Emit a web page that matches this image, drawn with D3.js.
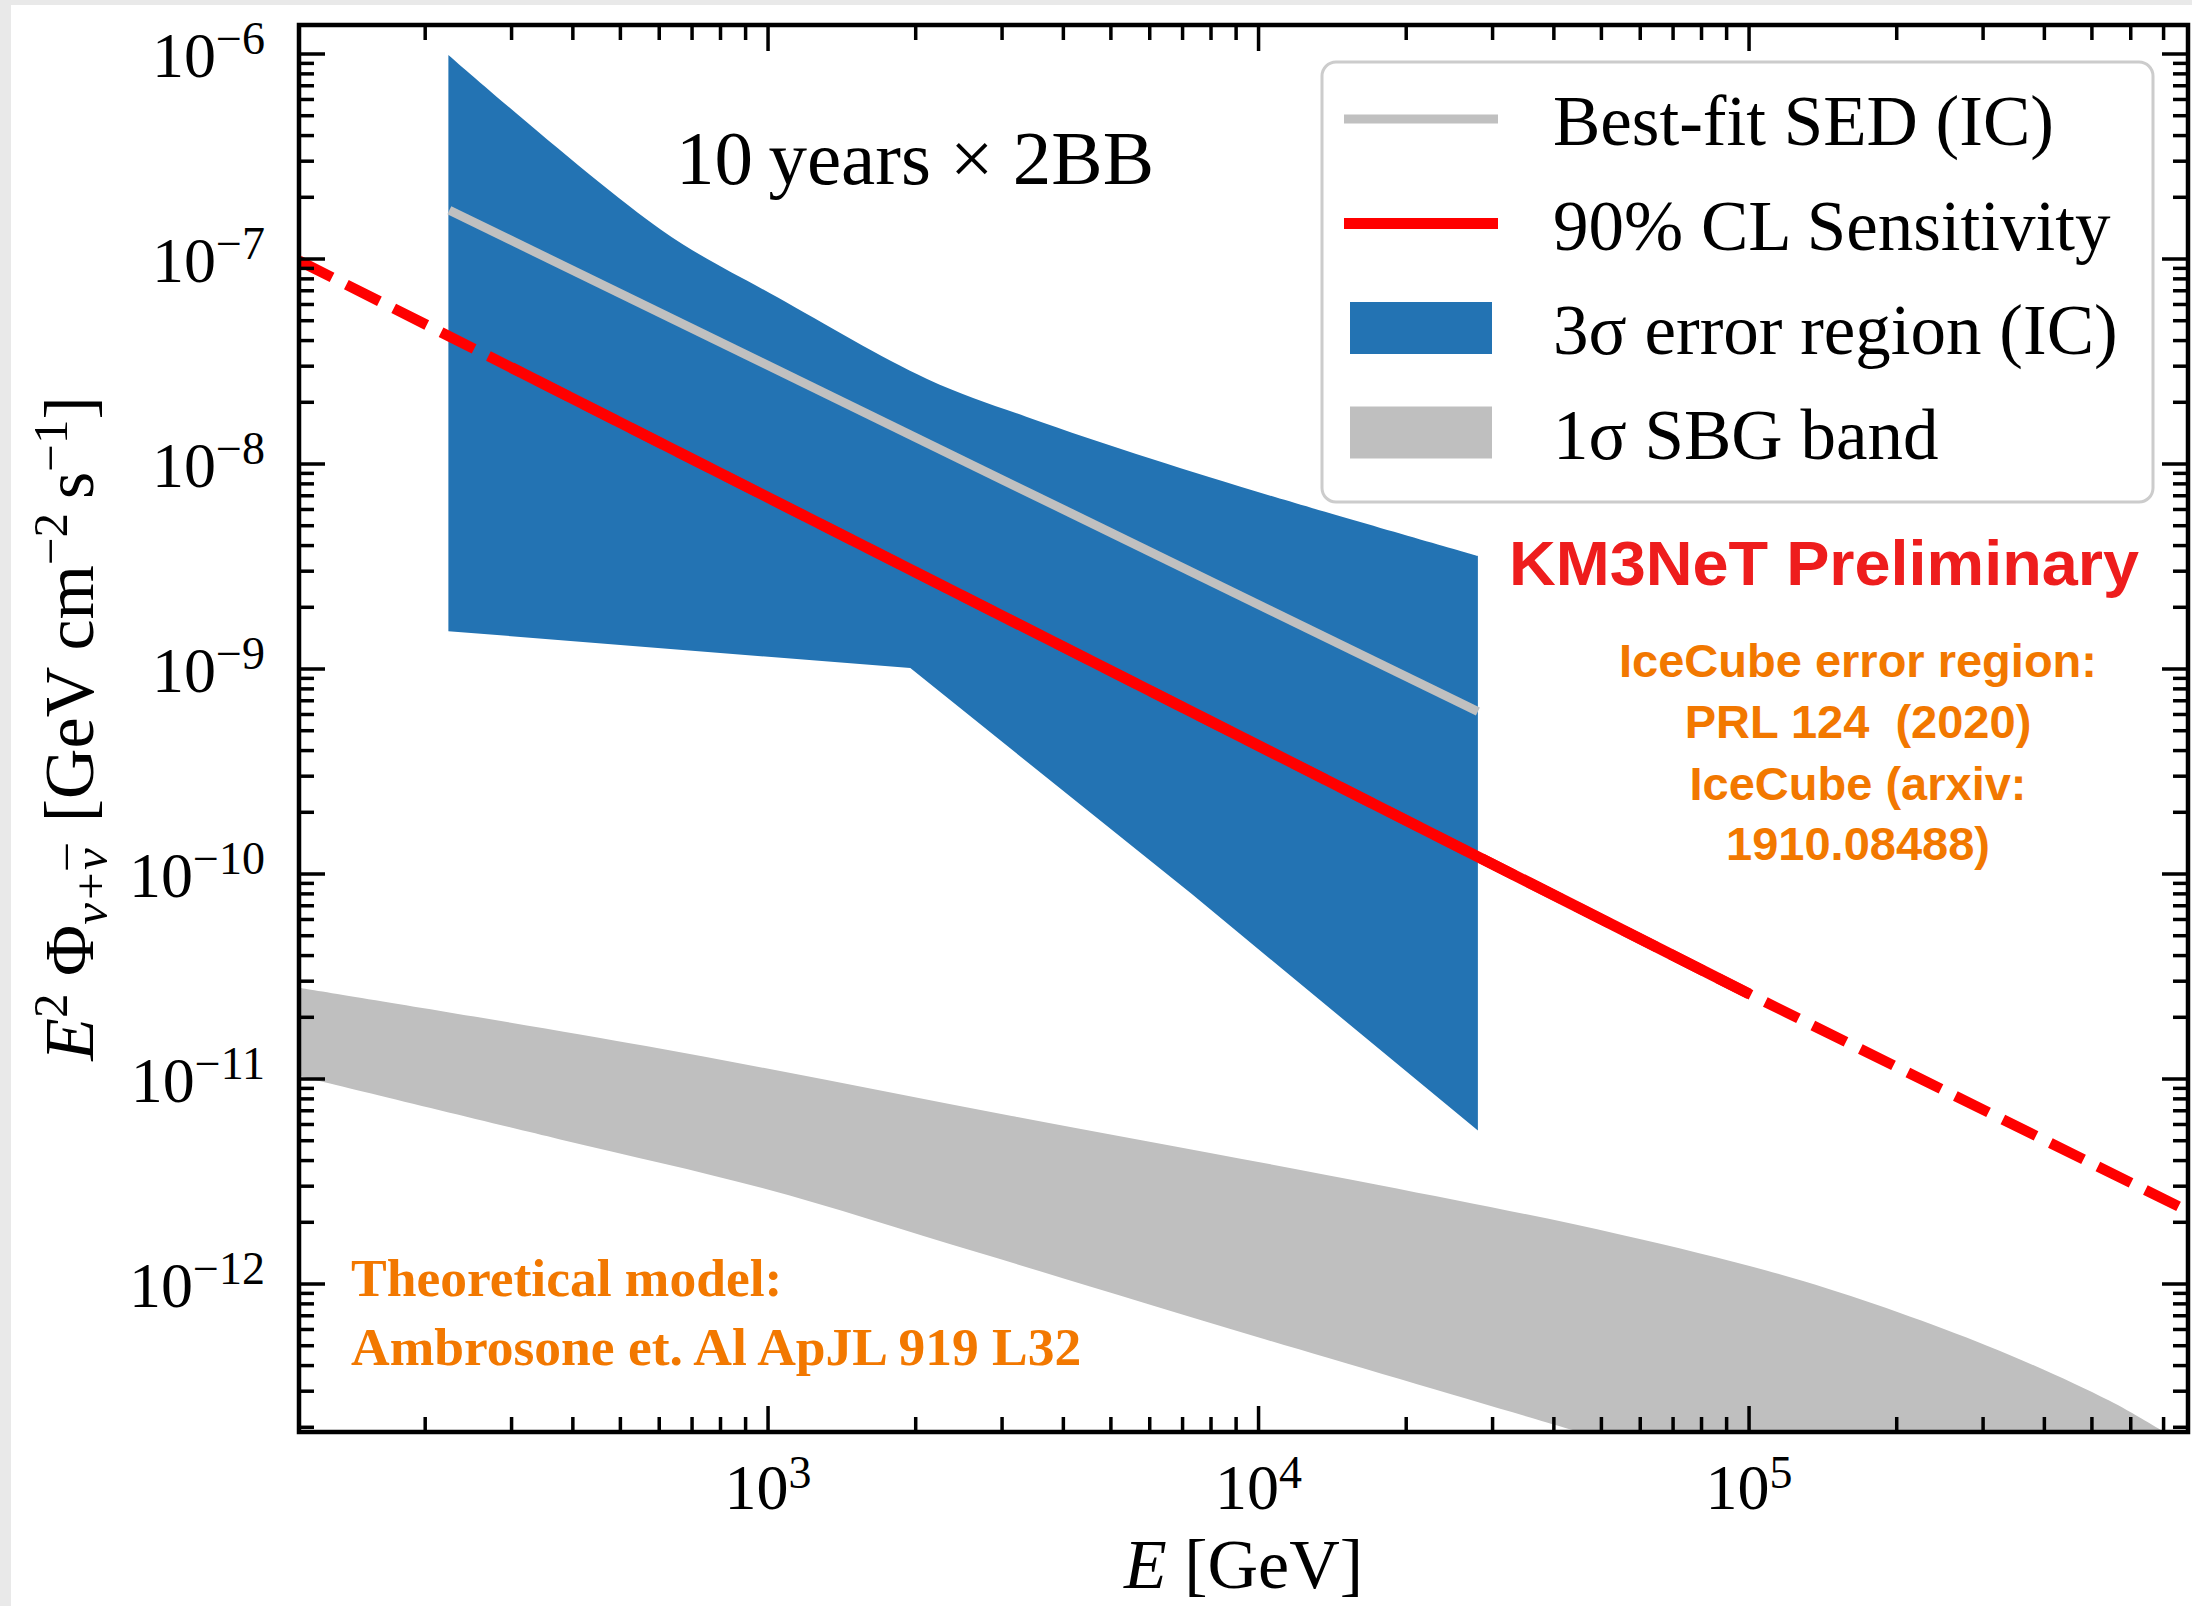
<!DOCTYPE html>
<html>
<head>
<meta charset="utf-8">
<script src="https://cdn.jsdelivr.net/npm/d3@7"></script>
<style>
  body { margin: 0; background: #fff; }
  svg { display: block; }
  text { white-space: pre; }
</style>
</head>
<body>
<div id="chart"></div>
<script>
// axis ticks
const xMajor = [1e3, 1e4, 1e5];
const xExp = ['3', '4', '5'];
const yMajor = [1e-6, 1e-7, 1e-8, 1e-9, 1e-10, 1e-11, 1e-12];
const yExp = ['\u22126', '\u22127', '\u22128', '\u22129', '\u221210', '\u221211', '\u221212'];
const xDomain = [110.6, 7.85e5];
const yDomain = [1.897e-13, 1.385e-6];

// 3 sigma error region (IceCube), upper and lower edge
const icTopE = [223, 605, 1045, 2110, 3360, 6040, 10800, 28000];
const icTopF = [9.9e-7, 1.39e-7, 6.5e-8, 2.6e-8, 1.7e-8, 1.06e-8, 6.9e-9, 3.56e-9];
const icBotE = [223, 1950, 7300, 28000];
const icBotF = [1.53e-9, 1.01e-9, 8.0e-11, 5.6e-12];

// best-fit SED (IceCube)
const fitE = [224, 28000];
const fitF = [1.73e-7, 6.2e-10];

// 90% CL sensitivity, solid between index 1 and 2
const sensE = [110.6, 300, 1e5, 7.85e5];
const sensF = [9.8e-8, 2.95e-8, 2.6e-11, 2.27e-12];

// 1 sigma SBG band
const sbgTopE = [110.6, 564, 3140, 17460, 54800, 129400, 305500, 542000, 701500];
const sbgTopF = [2.79e-11, 1.45e-11, 6.6e-12, 3.05e-12, 1.74e-12, 1.03e-12, 5.0e-13, 2.7e-13, 1.897e-13];
const sbgBotE = [110.6, 375, 973, 2692, 9977, 45200];
const sbgBotF = [1.035e-11, 5.09e-12, 2.94e-12, 1.42e-12, 5.5e-13, 1.897e-13];

const legendItems = [
  {label: 'Best-fit SED (IC)', type: 'line', color: '#c0c0c0'},
  {label: '90% CL Sensitivity', type: 'line', color: '#ff0000'},
  {label: '3\u03c3 error region (IC)', type: 'patch', color: '#2373b3'},
  {label: '1\u03c3 SBG band', type: 'patch', color: '#bfbfbf'}
];

const W = 2192, H = 1606;
const plot = {left: 299, right: 2188, top: 25, bottom: 1432};
const serif = '"Liberation Serif", "Times New Roman", serif';
const sans = '"Liberation Sans", Arial, sans-serif';
const orange = '#f27800';

let svg = d3.select('#chart').append('svg')
    .attr('width', W)
    .attr('height', H);

svg.append('rect').attr('width', W).attr('height', H).attr('fill', '#e9e9e9');
svg.append('rect').attr('x', 11).attr('y', 5).attr('width', W - 11).attr('height', H - 5).attr('fill', '#fff');

let x = d3.scaleLog().domain(xDomain).range([plot.left, plot.right]);
let y = d3.scaleLog().domain(yDomain).range([plot.bottom, plot.top]);

svg.append('clipPath').attr('id', 'clip')
    .append('rect')
    .attr('x', plot.left).attr('y', plot.top)
    .attr('width', plot.right - plot.left).attr('height', plot.bottom - plot.top);

let g = svg.append('g').attr('clip-path', 'url(#clip)');

let line = d3.line().x(d => x(d[0])).y(d => y(d[1]));
let smooth = d3.line().x(d => x(d[0])).y(d => y(d[1])).curve(d3.curveCatmullRom.alpha(0.5));
let zip = (a, b) => a.map((v, i) => [v, b[i]]);

// SBG band
let sbgD = smooth(zip(sbgTopE, sbgTopF)) +
    smooth(zip(sbgBotE, sbgBotF).reverse()).replace(/^M/, 'L') + 'Z';
g.append('path').attr('d', sbgD).attr('fill', '#bfbfbf');

// IceCube region
let icD = smooth(zip(icTopE, icTopF)) +
    line(zip(icBotE, icBotF).reverse()).replace(/^M/, 'L') + 'Z';
g.append('path').attr('d', icD).attr('fill', '#2373b3');

// best fit
g.append('path').attr('d', line(zip(fitE, fitF)))
    .attr('fill', 'none').attr('stroke', '#c0c0c0').attr('stroke-width', 9);

// sensitivity
let sens = zip(sensE, sensF);
g.append('path').attr('d', line(sens))
    .attr('fill', 'none').attr('stroke', '#ff0000').attr('stroke-width', 10.5)
    .attr('stroke-dasharray', '37,16');
g.append('path').attr('d', line(sens.slice(1, 3)))
    .attr('fill', 'none').attr('stroke', '#ff0000').attr('stroke-width', 11);

// annotations
svg.append('text')
    .attr('x', 676).attr('y', 184)
    .style('font-family', serif).style('font-size', '77px')
    .text('10\u2009years \u00d7 2BB');

svg.append('text')
    .attr('x', 1509).attr('y', 585)
    .attr('textLength', 630).attr('lengthAdjust', 'spacingAndGlyphs')
    .style('font-family', sans).style('font-size', '63px').style('font-weight', 'bold')
    .attr('fill', '#ee1d1d')
    .text('KM3NeT Preliminary');

let icLines = ['IceCube error region:', 'PRL 124  (2020)', 'IceCube (arxiv:', '1910.08488)'];
let icBase = [677, 738, 800, 860];
icLines.forEach((t, i) => {
    svg.append('text')
        .attr('x', 1858).attr('y', icBase[i])
        .style('text-anchor', 'middle')
        .style('font-family', sans).style('font-size', '47px').style('font-weight', 'bold')
        .attr('fill', orange)
        .text(t);
});

let modelLines = ['Theoretical model:', 'Ambrosone et. Al ApJL 919 L32'];
let modelBase = [1296, 1365];
modelLines.forEach((t, i) => {
    svg.append('text')
        .attr('x', 351).attr('y', modelBase[i])
        .style('font-family', serif).style('font-size', '53.5px').style('font-weight', 'bold')
        .attr('fill', orange)
        .text(t);
});

// legend
let leg = svg.append('g');
leg.append('rect')
    .attr('x', 1322).attr('y', 62).attr('width', 831).attr('height', 440)
    .attr('rx', 14).attr('ry', 14)
    .attr('fill', '#fff').attr('fill-opacity', 0.85)
    .attr('stroke', '#cccccc').attr('stroke-width', 3);

legendItems.forEach((d, i) => {
    let cy = 119 + i * 104.5;
    if (d.type === 'line') {
        leg.append('line')
            .attr('x1', 1344).attr('x2', 1498).attr('y1', cy).attr('y2', cy)
            .attr('stroke', d.color).attr('stroke-width', i === 0 ? 9 : 11);
    } else {
        leg.append('rect')
            .attr('x', 1350).attr('y', cy - 26).attr('width', 142).attr('height', 52)
            .attr('fill', d.color);
    }
    leg.append('text')
        .attr('x', 1553).attr('y', cy + 26)
        .style('font-family', serif).style('font-size', '71px')
        .text(d.label);
});

// ticks (inward, all sides)
let frame = svg.append('g');
let xMinor = [], yMinor = [];
for (let d = 100; d <= 1e5; d *= 10) for (let k = 2; k <= 9; k++) {
    let v = k * d;
    if (v > xDomain[0] && v < xDomain[1]) xMinor.push(v);
}
for (let e = -13; e <= -7; e++) for (let k = 2; k <= 9; k++) {
    let v = k * Math.pow(10, e);
    if (v > yDomain[0] && v < yDomain[1]) yMinor.push(v);
}

let tickW = 3.5;
function xTick(v, len) {
    frame.append('line').attr('x1', x(v)).attr('x2', x(v))
        .attr('y1', plot.bottom).attr('y2', plot.bottom - len)
        .attr('stroke', '#000').attr('stroke-width', tickW);
    frame.append('line').attr('x1', x(v)).attr('x2', x(v))
        .attr('y1', plot.top).attr('y2', plot.top + len)
        .attr('stroke', '#000').attr('stroke-width', tickW);
}
function yTick(v, len) {
    frame.append('line').attr('y1', y(v)).attr('y2', y(v))
        .attr('x1', plot.left).attr('x2', plot.left + len)
        .attr('stroke', '#000').attr('stroke-width', tickW);
    frame.append('line').attr('y1', y(v)).attr('y2', y(v))
        .attr('x1', plot.right).attr('x2', plot.right - len)
        .attr('stroke', '#000').attr('stroke-width', tickW);
}
xMinor.forEach(v => xTick(v, 15));
xMajor.forEach(v => xTick(v, 26));
yMinor.forEach(v => yTick(v, 15));
yMajor.forEach(v => yTick(v, 26));

frame.append('rect')
    .attr('x', plot.left).attr('y', plot.top)
    .attr('width', plot.right - plot.left).attr('height', plot.bottom - plot.top)
    .attr('fill', 'none').attr('stroke', '#000').attr('stroke-width', 4.5);

// tick labels
xMajor.forEach((v, i) => {
    let t = svg.append('text')
        .attr('x', x(v)).attr('y', 1509)
        .style('text-anchor', 'middle')
        .style('font-family', serif).style('font-size', '64px');
    t.append('tspan').text('10');
    t.append('tspan').attr('dy', -21).style('font-size', '46px').text(xExp[i]);
});
yMajor.forEach((v, i) => {
    let t = svg.append('text')
        .attr('x', 265).attr('y', y(v) + 23)
        .style('text-anchor', 'end')
        .style('font-family', serif).style('font-size', '64px');
    t.append('tspan').text('10');
    t.append('tspan').attr('dy', -23).style('font-size', '46px').text(yExp[i]);
});

// axis labels
let xl = svg.append('text')
    .attr('x', (plot.left + plot.right) / 2).attr('y', 1588)
    .style('text-anchor', 'middle')
    .style('font-family', serif).style('font-size', '70px');
xl.append('tspan').style('font-style', 'italic').text('E');
xl.append('tspan').text(' [GeV]');

let yl = svg.append('text')
    .attr('transform', `translate(93, ${(plot.top + plot.bottom) / 2}) rotate(-90)`)
    .style('text-anchor', 'middle')
    .style('font-family', serif).style('font-size', '70px');
yl.append('tspan').style('font-style', 'italic').text('E');
yl.append('tspan').attr('dy', -26).style('font-size', '49px').text('2');
yl.append('tspan').attr('dy', 26).text(' \u03a6');
yl.append('tspan').attr('dy', 14).style('font-size', '49px').style('font-style', 'italic').text('\u03bd+\u03bd');
// macron over the second nu
yl.append('tspan').attr('dx', -21).attr('dy', -4).style('font-size', '49px').text('\u00af');
yl.append('tspan').attr('dx', 5).attr('dy', -10).text(' [GeV cm');
yl.append('tspan').attr('dy', -26).style('font-size', '49px').text('\u22122');
yl.append('tspan').attr('dy', 26).text('\u2009s');
yl.append('tspan').attr('dy', -26).style('font-size', '49px').text('\u22121');
yl.append('tspan').attr('dy', 26).text(']');
</script>
</body>
</html>
